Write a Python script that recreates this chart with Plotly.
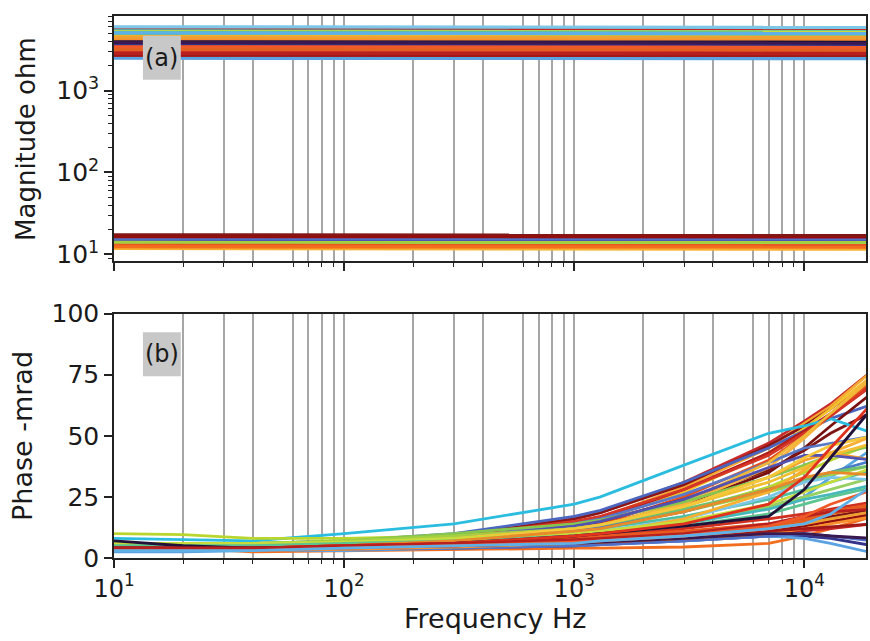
import plotly.graph_objects as go
from plotly.subplots import make_subplots
import math

# ---------------- data ----------------
PHASE_FREQ = [10, 20, 40, 100, 300, 1000, 1300, 3000, 7000, 10000, 13000, 20000]
MAG_FREQ = [10, 3000, 20000]

# magnitude (ohm) of each measurement at MAG_FREQ
MAG = [
    [5700, 5700, 5650], [4550, 4550, 4500], [4080, 4080, 4050], [4450, 4450, 4400],
    [3760, 3760, 3720], [2930, 2930, 2900], [3950, 3950, 3900], [3550, 3550, 3300],
    [2770, 2770, 2740], [5100, 5100, 5000], [4350, 4350, 4300], [3100, 3100, 3000],
    [4800, 4800, 4700], [4600, 4600, 4550],
    [14.2, 14.2, 14.0], [5300, 5300, 5200], [13.6, 13.6, 13.5], [14.8, 14.8, 14.6],
    [4250, 4250, 4200], [15.3, 15.3, 15.0], [4620, 4620, 4570], [14.0, 14.0, 13.9],
    [5200, 5200, 5100], [5350, 5350, 5250], [15.8, 15.8, 15.6], [5000, 5000, 4900],
    [6000, 6000, 5900], [4500, 4500, 4450], [11.8, 11.8, 11.6], [5250, 5250, 5150],
    [5150, 5150, 5050], [4300, 4300, 4250],
    [3460, 3460, 3400], [17.3, 17.3, 17.2], [2620, 2620, 2600], [12.9, 12.9, 12.8],
    [12.4, 12.4, 12.3], [3270, 3270, 3200], [4000, 4000, 3950], [3650, 3650, 3600],
    [2480, 2480, 2450], [16.0, 16.0, 15.8], [16.5, 16.5, 16.4], [4310, 4310, 4250],
    [3370, 3370, 3250], [3180, 3180, 3100], [2700, 2700, 2680], [4500, 4500, 4450],
    [3860, 3860, 3800], [2850, 2850, 2820], [3420, 3420, 3350], [5050, 5050, 4950],
]

# phase (-mrad) of each measurement at PHASE_FREQ
PHASE = [
    [5, 5, 5, 6, 9, 16, 18.5, 31, 47, 56, 63, 77],
    [4, 4, 4, 5, 8, 14, 16.5, 29, 45, 55, 62, 77],
    [5, 5, 5, 6, 9, 16, 18.5, 30, 46, 54, 61, 74],
    [5, 5, 5, 6, 8, 13, 15.5, 27, 43, 53, 61, 75],
    [6, 6, 6, 7, 10, 17, 19.5, 31, 45, 52, 57, 63],
    [4, 4, 4, 5, 8, 14, 16, 28, 43, 52, 59, 72],
    [5, 5, 5, 6, 8, 12, 13.5, 22, 35, 45, 54, 68],
    [4, 4, 4, 5, 7.5, 12, 14, 25, 40, 50, 58, 73],
    [5, 5, 5, 6, 8, 13, 15, 24, 36, 44, 51, 60],
    [8, 7.5, 7, 10, 14, 22, 25, 38, 51, 54, 57, 51],
    [5, 5, 5, 6, 8, 11, 12.5, 22, 37, 49, 59, 75],
    [5, 5, 5, 6, 9, 15, 17, 28, 42, 51, 58, 71],
    [5, 5, 5, 6, 8, 14, 16, 26, 39, 45, 47, 50],
    [4, 4, 4, 5, 7, 11, 13, 23, 39, 50, 59, 74],
    [10, 9.6, 8, 8, 9, 12, 13, 19, 29, 35, 40, 47],
    [6, 6, 6, 7, 10, 14, 15.5, 23, 33, 38, 42, 46],
    [5, 5, 5, 6, 8, 11, 12, 17, 24, 28, 31, 36],
    [3, 3, 3, 4, 6, 9, 10, 15, 21, 25, 33, 45],
    [4, 4, 4, 5, 7.5, 11, 12.5, 21, 33, 40, 43, 40],
    [5, 5, 5, 6, 8, 13, 15, 24, 37, 42, 42, 40],
    [4, 4, 4, 5, 8, 12, 13.5, 21, 31, 37, 42, 47],
    [6, 6, 6, 7, 9, 12, 13, 19, 27, 31, 34, 38],
    [5, 5, 5, 6, 7, 10, 11, 15, 21, 25, 28, 33],
    [5, 5, 5, 6, 7, 9, 10, 14, 20, 24, 26, 30],
    [4, 4, 4, 5, 7.5, 11, 12.5, 19, 28, 32, 35, 40],
    [5, 5, 5, 6, 8, 12, 13.5, 20, 28, 32, 35, 38],
    [4, 4, 4, 5, 7, 10, 11, 16, 25, 31, 33, 32],
    [5, 5, 5, 6, 8, 12, 13.5, 21, 33, 41, 46, 50],
    [4, 4, 4, 5, 6.5, 9, 10, 16, 27, 36, 43, 50],
    [6, 6, 6, 6.5, 8, 10, 11, 15, 22, 27, 31, 37],
    [5, 5, 5, 6, 7, 9, 10, 13, 18, 22, 25, 29],
    [4, 4, 4, 5, 7, 11, 12, 19, 28, 33, 35, 34],
    [4, 4, 4, 5, 6, 8, 9, 12, 16, 18, 20, 23],
    [3, 3, 3, 4, 5, 7, 8, 10, 13, 15, 17, 20],
    [3, 3, 3, 4, 5, 7, 7.5, 9, 12, 14, 15, 17],
    [4, 4, 4, 5, 6, 8, 9, 11, 14, 16, 19, 22],
    [4, 4, 2.5, 3, 3.5, 4, 4, 4.5, 6, 9, 12, 17],
    [4, 4, 4, 4.5, 5, 6, 6.5, 8, 10, 11, 12, 14],
    [7, 5, 4, 4.5, 6, 9, 10, 13, 17, 28, 41, 62],
    [3, 3, 3, 3.5, 4, 5, 5.5, 7, 9, 9, 8, 5],
    [2.5, 2.5, 3, 3, 4, 5, 5.5, 7, 9, 8, 6, 2],
    [3, 3, 3, 3.5, 4, 5, 5.5, 7, 9, 10, 9, 7],
    [4, 4, 4, 4.5, 5, 6, 6.5, 8, 11, 13, 15, 18],
    [3, 3, 3, 3.5, 4.5, 6, 6.5, 8, 10, 12, 14, 17],
    [4, 4, 4, 5, 6, 9, 10, 14, 22, 33, 45, 64],
    [3, 3, 3, 4, 5, 7, 8, 10, 13, 15, 18, 21],
    [4, 4, 4, 4.5, 5.5, 7, 7.5, 9, 11, 12, 13, 14],
    [3, 3, 3, 4, 5, 6, 7, 9, 12, 14, 16, 19],
    [4, 4, 4, 4.5, 5, 6, 6.5, 8, 10, 10, 9, 8],
    [4, 4, 4, 5, 6, 7.5, 8, 10, 14, 17, 19, 20],
    [3, 3, 3, 4, 5, 6.5, 7, 9, 13, 17, 22, 28],
    [3, 3, 3, 4, 5, 6, 7, 9, 12, 14, 18, 30],
]

X_MAJOR = [10, 100, 1000, 10000]
X_MAJOR_TEXT = ["10<sup>1</sup>", "10<sup>2</sup>", "10<sup>3</sup>", "10<sup>4</sup>"]
X_MINOR = [20, 30, 40, 60, 70, 80, 90, 200, 300, 400, 600, 700, 800, 900,
           2000, 3000, 4000, 6000, 7000, 8000, 9000]
Y_MAG_MAJOR = [10, 100, 1000]
Y_MAG_TEXT = ["10<sup>1</sup>", "10<sup>2</sup>", "10<sup>3</sup>"]
Y_MAG_MINOR = [m * 10 ** k for k in (0, 1, 2, 3) for m in range(2, 10)]
Y_PH_TICKS = [0, 25, 50, 75, 100]

# ---------------- styles ----------------
COLORS = [
    "#c62a2a", "#f7a832", "#8c1616", "#f2c12c", "#4a66bf", "#b01e1e", "#781010",
    "#e84f1e", "#7e1414", "#2bbde0", "#f9b23e", "#d63626", "#5a78c8", "#f0b838",
    "#b9d62e", "#86c64e", "#4fbfa3", "#58a8e0", "#f79e2e", "#5252b0", "#f0c030",
    "#a3d042", "#96cf62", "#45b8bc", "#4a7bc8", "#6fc070", "#7cc6e8", "#f4c83a",
    "#f7b030", "#c8dc3c", "#5cc490", "#e88a2a",
    "#d0301f", "#801818", "#ae1f1f", "#e8581f", "#f36d1f", "#c82828", "#22123a",
    "#33338a", "#5aa2e2", "#5070c8", "#920f0f", "#f89030", "#e0321e", "#e0601f",
    "#a01818", "#f0a030", "#3a1850", "#b82020", "#f05a28", "#60b0e8",
]

FONT = "DejaVu Sans"
TXT = "#1a1a1a"
GRID = "#a6a6a6"

W, H = 870, 641
ML, MR, MT, MB = 114, 2, 6, 83
PW, PH = W - ML - MR, H - MT - MB


def px_x(p):
    return (p - ML) / PW


def px_y(p):
    return (H - MB - p) / PH


top_bottom = px_y(256)
bot_top = px_y(309)

fig = make_subplots(rows=2, cols=1, shared_xaxes=False)

for i, c in enumerate(COLORS):
    fig.add_trace(go.Scatter(x=MAG_FREQ, y=MAG[i], mode="lines",
                             line=dict(color=c, width=3.2), showlegend=False,
                             hoverinfo="skip"), row=1, col=1)
for i, c in enumerate(COLORS):
    fig.add_trace(go.Scatter(x=PHASE_FREQ, y=PHASE[i], mode="lines",
                             line=dict(color=c, width=2.8), showlegend=False,
                             hoverinfo="skip"), row=2, col=1)

xrange_ = [1, 4.268]
common_x = dict(type="log", range=xrange_, tickvals=X_MAJOR, ticktext=X_MAJOR_TEXT,
                ticks="outside", ticklen=8, tickwidth=1.5, tickcolor="#222",
                showline=True, linecolor="#222", linewidth=1.5, mirror=True,
                showgrid=True, gridcolor=GRID, gridwidth=1.5, zeroline=False,
                minor=dict(tickmode="array", tickvals=X_MINOR, ticks="outside",
                           ticklen=4, tickwidth=1.2, tickcolor="#222",
                           showgrid=True, gridcolor=GRID, gridwidth=1.5),
                tickfont=dict(family=FONT, size=24, color=TXT))

fig.update_layout(
    width=W, height=H, plot_bgcolor="white", paper_bgcolor="white",
    margin=dict(l=ML, r=MR, t=MT, b=MB),
    xaxis=dict(**common_x, domain=[0, 1], anchor="y", showticklabels=False),
    xaxis2=dict(**common_x, domain=[0, 1], anchor="y2", showticklabels=True),
    yaxis=dict(type="log", domain=[top_bottom, 1], anchor="x",
               range=[math.log10(8.2), math.log10(8130)],
               tickvals=Y_MAG_MAJOR, ticktext=Y_MAG_TEXT,
               ticks="outside", ticklen=8, tickwidth=1.5, tickcolor="#222",
               showline=True, linecolor="#222", linewidth=1.5, mirror=True,
               showgrid=False, zeroline=False,
               minor=dict(tickmode="array", tickvals=Y_MAG_MINOR, ticks="outside",
                          ticklen=4, tickwidth=1.2, tickcolor="#222", showgrid=False),
               tickfont=dict(family=FONT, size=25, color=TXT)),
    yaxis2=dict(domain=[0, bot_top], anchor="x2", range=[0, 100],
                tickvals=Y_PH_TICKS, ticks="outside", ticklen=8, tickwidth=1.5,
                tickcolor="#222", showline=True, linecolor="#222", linewidth=1.5,
                mirror=True, showgrid=False, zeroline=False,
                tickfont=dict(family=FONT, size=25, color=TXT)),
)

# label boxes
for (x0, x1, y0, y1) in [(143, 181, 26, 71), (143, 181, 328, 373)]:
    fig.add_shape(type="rect", xref="paper", yref="paper",
                  x0=px_x(x0), x1=px_x(x1), y0=px_y(y1), y1=px_y(y0),
                  fillcolor="#c8c8c8", line=dict(width=0), layer="above")

annots = [
    ("(a)", px_x(162), px_y(48.5), 0, 24),
    ("(b)", px_x(162), px_y(350.5), 0, 24),
    ("Magnitude ohm", px_x(26), px_y(131), -90, 26),
    ("Phase -mrad", px_x(23), px_y(433.5), -90, 27),
    ("Frequency Hz", px_x(497), px_y(620), 0, 27),
]
for text, x, y, ang, size in annots:
    fig.add_annotation(text=text, x=x, y=y, xref="paper", yref="paper",
                       xanchor="center", yanchor="middle", showarrow=False,
                       textangle=ang, font=dict(family=FONT, size=size, color=TXT))

fig.write_html("out.html")
